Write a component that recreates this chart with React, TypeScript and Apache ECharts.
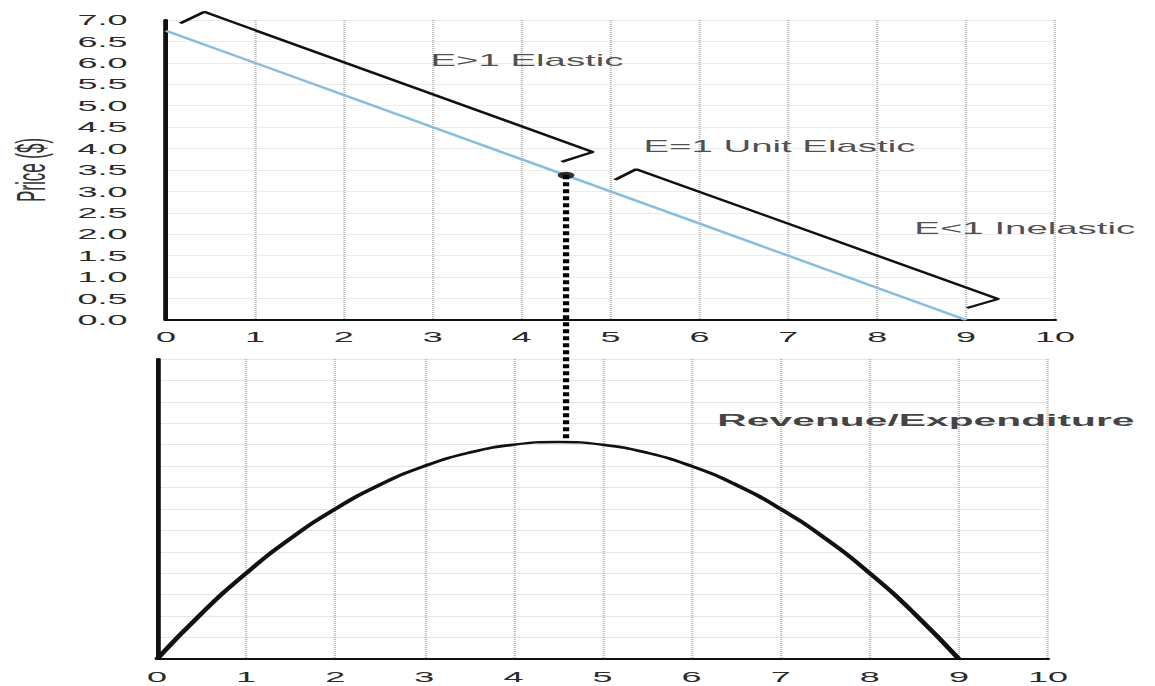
import React, { useEffect, useRef } from "react";
import * as echarts from "echarts";

// ---- data ----
const demandQty = [0, 9];
const demandPrice = [6.75, 0];

const unitElasticQty = [4.5];
const unitElasticPrice = [3.375];

const elasticBracketQty = [0.16, 0.43, 4.8, 4.45];
const elasticBracketPrice = [6.92, 7.19, 3.92, 3.69];

const inelasticBracketQty = [5.05, 5.29, 9.36, 9.01];
const inelasticBracketPrice = [3.27, 3.52, 0.49, 0.28];

const revenueQty = [0, 0.5, 1, 1.5, 2, 2.5, 3, 3.5, 4, 4.5, 5, 5.5, 6, 6.5, 7, 7.5, 8, 8.5, 9];
const revenueValues = [
  0, 3.19, 6.0, 8.44, 10.5, 12.19, 13.5, 14.44, 15.0, 15.19, 15.0, 14.44, 13.5, 12.19, 10.5, 8.44,
  6.0, 3.19, 0,
];

const topLabels = ["E>1 Elastic", "E=1 Unit Elastic", "E<1 Inelastic"];
const topLabelQty = [4.06, 6.9, 9.66];
const topLabelPrice = [6.07, 4.06, 2.15];

const bottomLabels = ["Revenue/Expenditure"];
const bottomLabelQty = [8.63];
const bottomLabelValue = [16.7];

const xTickMin = 0;
const xTickMax = 10;
const priceMax = 7;
const priceStep = 0.5;
const revenueAxisMax = 21;
const revenueAxisStep = 1.5;

// ---- presentation ----
const STRETCH = 2.4;
const W = 1155 / STRETCH;
const H = 686;
const FONT = "'Liberation Sans', Arial, Helvetica, sans-serif";

const zip = (a: number[], b: number[]) => a.map((v, i) => [v, b[i]]);

function xAxisCfg(gridIndex: number, margin: number) {
  return {
    type: "value",
    gridIndex,
    min: xTickMin,
    max: xTickMax,
    interval: 1,
    axisLine: { show: true, onZero: false, lineStyle: { color: "#111", width: 2 } },
    axisTick: { show: false },
    axisLabel: { color: "#2a2a2a", fontSize: 15, fontFamily: FONT, margin },
    splitLine: { show: true, lineStyle: { color: "#bdbdbd", type: "dotted", width: 1 } },
  };
}

export default function App() {
  const ref = useRef<HTMLDivElement>(null);

  useEffect(() => {
    if (!ref.current) return;
    const chart = echarts.init(ref.current, null, { renderer: "svg" });

    const option: any = {
      animation: false,
      backgroundColor: "#fff",
      grid: [
        {
          left: 166 / STRETCH,
          width: 889 / STRETCH,
          top: 20,
          height: 300,
          containLabel: false,
          outerBoundsMode: "none",
        },
        {
          left: 157 / STRETCH,
          width: 891 / STRETCH,
          top: 359,
          height: 300,
          containLabel: false,
          outerBoundsMode: "none",
        },
      ],
      xAxis: [xAxisCfg(0, 9), xAxisCfg(1, 10)],
      yAxis: [
        {
          type: "value",
          gridIndex: 0,
          min: 0,
          max: priceMax,
          interval: priceStep,
          name: "Price ($)",
          nameLocation: "middle",
          nameGap: 47,
          nameTextStyle: { color: "#333", fontSize: 17, fontFamily: FONT },
          axisLine: { show: true, lineStyle: { color: "#111", width: 2 } },
          axisTick: { show: false },
          axisLabel: {
            color: "#2a2a2a",
            fontSize: 15,
            fontFamily: FONT,
            margin: 16,
            formatter: (v: number) => v.toFixed(1),
          },
          splitLine: { show: true, lineStyle: { color: "#ececec", width: 1 } },
        },
        {
          type: "value",
          gridIndex: 1,
          min: 0,
          max: revenueAxisMax,
          interval: revenueAxisStep,
          axisLine: { show: true, lineStyle: { color: "#111", width: 2 } },
          axisTick: { show: false },
          axisLabel: { show: false },
          splitLine: { show: true, lineStyle: { color: "#e6e6e6", width: 1 } },
        },
      ],
      series: [
        {
          name: "Demand",
          type: "line",
          xAxisIndex: 0,
          yAxisIndex: 0,
          data: zip(demandQty, demandPrice),
          showSymbol: false,
          lineStyle: { color: "#86bde3", width: 2 },
          silent: true,
        },
        {
          name: "Elastic bracket",
          type: "line",
          xAxisIndex: 0,
          yAxisIndex: 0,
          data: zip(elasticBracketQty, elasticBracketPrice),
          showSymbol: false,
          clip: false,
          lineStyle: { color: "#111", width: 2 },
          silent: true,
        },
        {
          name: "Inelastic bracket",
          type: "line",
          xAxisIndex: 0,
          yAxisIndex: 0,
          data: zip(inelasticBracketQty, inelasticBracketPrice),
          showSymbol: false,
          clip: false,
          lineStyle: { color: "#111", width: 2 },
          silent: true,
        },
        {
          name: "Top labels",
          type: "scatter",
          xAxisIndex: 0,
          yAxisIndex: 0,
          symbolSize: 0,
          clip: false,
          silent: true,
          data: topLabels.map((t, i) => ({ name: t, value: [topLabelQty[i], topLabelPrice[i]] })),
          label: {
            show: true,
            position: "inside",
            formatter: (p: any) => p.name,
            color: "#222",
            fontSize: 16,
            fontFamily: FONT,
          },
        },
        {
          name: "Revenue",
          type: "line",
          xAxisIndex: 1,
          yAxisIndex: 1,
          data: zip(revenueQty, revenueValues),
          smooth: true,
          showSymbol: false,
          lineStyle: { color: "#111", width: 2.5 },
          silent: true,
        },
        {
          name: "Bottom labels",
          type: "scatter",
          xAxisIndex: 1,
          yAxisIndex: 1,
          symbolSize: 0,
          clip: false,
          silent: true,
          data: bottomLabels.map((t, i) => ({ name: t, value: [bottomLabelQty[i], bottomLabelValue[i]] })),
          label: {
            show: true,
            position: "inside",
            formatter: (p: any) => p.name,
            color: "#111",
            fontSize: 17,
            fontWeight: "bold",
            fontFamily: FONT,
          },
        },
        {
          name: "Unit elastic point",
          type: "scatter",
          xAxisIndex: 0,
          yAxisIndex: 0,
          data: zip(unitElasticQty, unitElasticPrice),
          symbol: "circle",
          symbolSize: 7,
          itemStyle: { color: "#000" },
          z: 10,
          silent: true,
        },
      ],
    };

    chart.setOption(option);

    // dotted vertical connector from the unit-elastic point down to the revenue maximum
    let peakIdx = 0;
    revenueValues.forEach((v, i) => {
      if (v > revenueValues[peakIdx]) peakIdx = i;
    });
    const p1 = chart.convertToPixel({ gridIndex: 0 }, [unitElasticQty[0], unitElasticPrice[0]]) as number[];
    const p2 = chart.convertToPixel({ gridIndex: 1 }, [revenueQty[peakIdx], revenueValues[peakIdx]]) as number[];
    chart.setOption({
      graphic: [
        {
          type: "line",
          z: 5,
          silent: true,
          shape: { x1: p1[0], y1: p1[1], x2: p1[0], y2: p2[1] },
          style: { stroke: "#000", lineWidth: 2.6, lineDash: [4, 3] },
        },
      ],
    });

    return () => chart.dispose();
  }, []);

  return (
    <div
      ref={ref}
      style={{
        position: "absolute",
        left: 0,
        top: 0,
        width: W,
        height: H,
        transform: `scaleX(${STRETCH})`,
        transformOrigin: "0 0",
        background: "#fff",
      }}
    />
  );
}
